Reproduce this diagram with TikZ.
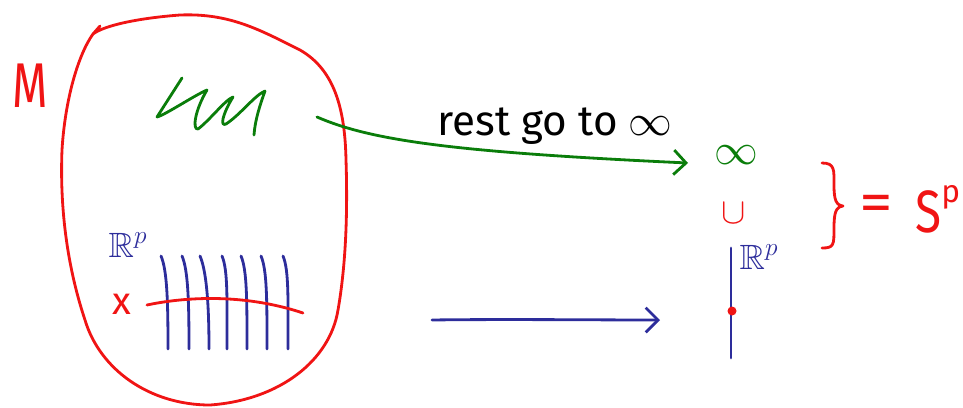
\documentclass[tikz,border=0pt]{standalone}
\usepackage{amssymb}
\usepackage{fontspec}
\setmainfont{Fira Sans}
\usetikzlibrary{arrows.meta,decorations.pathreplacing}
\definecolor{hred}{RGB}{240,20,20}
\definecolor{hgreen}{RGB}{10,125,10}
\definecolor{hblue}{RGB}{45,45,155}
\tikzset{
  pen/.style={line width=1.6pt, line cap=round, line join=round},
  lbl/.style={inner sep=0pt},
  openv/.style={-{Straight Barb[length=7pt,width=14pt,line width=1.6pt]}}
}
\begin{document}
\begin{tikzpicture}[x=0.02cm,y=-0.02cm]
\useasboundingbox (0,0) rectangle (963,407);
% manifold M
\draw[pen,hred] (100,26) -- (93,34)
  .. controls (105,25) and (140,18) .. (180,15)
  .. controls (230,13) and (260,30) .. (300,50)
  .. controls (335,70) and (345,110) .. (346,160)
  .. controls (348,220) and (345,270) .. (338,310)
  .. controls (330,360) and (280,400) .. (210,405)
  .. controls (150,405) and (100,370) .. (85,320)
  .. controls (65,260) and (60,200) .. (62,150)
  .. controls (65,100) and (78,55) .. (93,34);
\node[lbl,hred,font=\fontsize{36}{36}\selectfont] (M) at (30,86) {\scalebox{0.72}[1]{M}};
% green zigzag
\draw[pen,hgreen] (182,78) -- (157,117) .. controls (165,115) and (195,95) .. (207,90)
  .. controls (195,110) and (192,130) .. (198,129) .. controls (210,120) and (225,100) .. (233,97)
  .. controls (222,115) and (220,127) .. (226,124) .. controls (240,115) and (255,95) .. (265,91)
  .. controls (260,105) and (255,120) .. (254,135);
\coordinate (gs) at (317,117);
\node[lbl,hgreen,font=\fontsize{30}{30}\selectfont] (inf) at (736,155) {$\infty$};
\draw[pen,hgreen,openv] (gs) .. controls (370,140) and (450,152) .. (688,163);
\node[lbl,font=\fontsize{24}{24}\selectfont] (rest) at (555,126) {rest go to $\infty$};
\node[lbl,hred,font=\fontsize{20}{20}\selectfont] (cup) at (734,213) {$\cup$};
% blue line with point
\coordinate (lt) at (731,248);
\coordinate (lb) at (731,358);
\draw[pen,hblue] (lt) -- (lb);
\fill[hred] (732,311) circle (4.5);
\node[lbl,hblue,font=\fontsize{20}{20}\selectfont] (Rp2) at (759,257) {$\mathbb{R}^p$};
% brace and S^p
\draw[pen,hred] (822,163) .. controls (835,163) and (834,170) .. (834,185)
  .. controls (834,200) and (836,205) .. (843,206)
  .. controls (836,207) and (834,212) .. (834,228)
  .. controls (834,245) and (834,248) .. (822,248);
\node[lbl,hred,font=\fontsize{32}{32}\selectfont] (eq) at (876,208) {\scalebox{1.2}[1]{=}};
\node[lbl,hred,font=\fontsize{34}{34}\selectfont,anchor=west] (Sp) at (915,209) {\scalebox{0.8}[1]{S}\raisebox{0.5em}{\fontsize{18}{18}\selectfont p}};
% blue arrow
\coordinate (ba) at (432,320);
\coordinate (bb) at (660,320);
\draw[pen,hblue,openv] (ba) .. controls (500,319) and (600,320) .. (bb);
% inside: R^p with lines
\node[lbl,hblue,font=\fontsize{20}{20}\selectfont] (Rp1) at (128,245) {$\mathbb{R}^p$};
\foreach \x/\b in {167/168,188/189,206/209,228/227,247/247,267/267,289/288}{
  \draw[pen,hblue] (\x-6,256) .. controls (\x,270) and (\b,300) .. (\b,349);
}
\draw[pen,hred] (147,305) .. controls (180,298) and (240,292) .. (303,313);
\node[lbl,hred,font=\fontsize{22}{22}\selectfont] (x) at (122,304) {x};
\end{tikzpicture}
\end{document}
